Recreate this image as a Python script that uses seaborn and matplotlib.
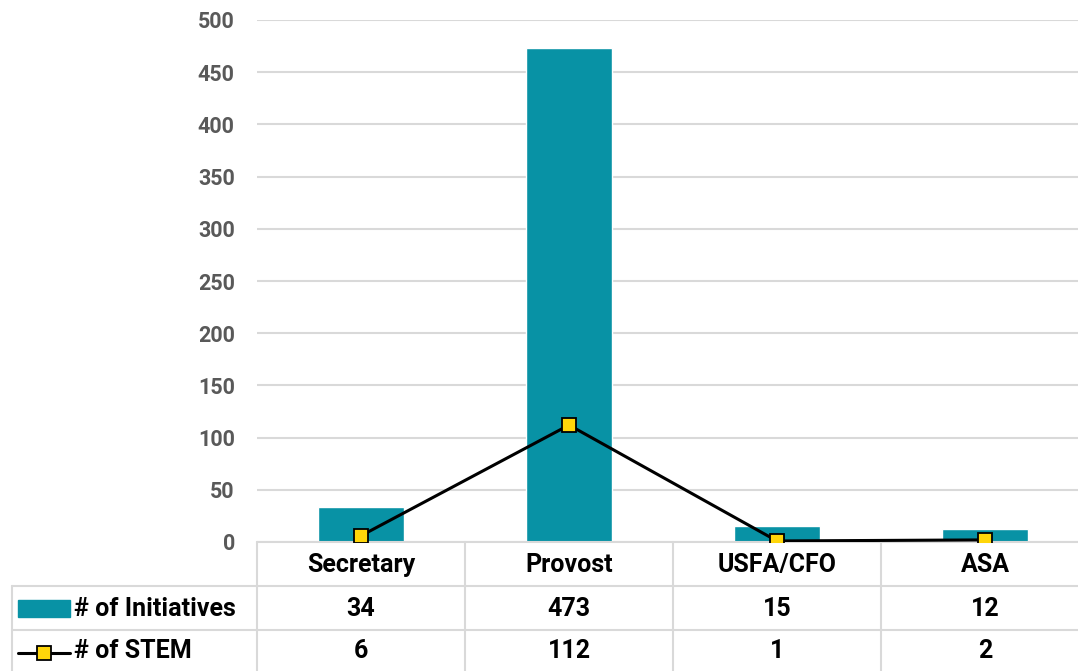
import matplotlib
matplotlib.use("Agg")
import matplotlib.pyplot as plt
from matplotlib.transforms import blended_transform_factory
from matplotlib.patches import Rectangle
from matplotlib.lines import Line2D
import numpy as np
import pandas as pd
import seaborn as sns

categories = ["Secretary", "Provost", "USFA/CFO", "ASA"]
initiatives = [34, 473, 15, 12]
stem = [6, 112, 1, 2]
series_names = ["# of Initiatives", "# of STEM"]
y_ticks = [0, 50, 100, 150, 200, 250, 300, 350, 400, 450, 500]

BAR_COLOR = "#0892a5"
MARKER_COLOR = "#ffd60a"
GRID_COLOR = "#d9d9d9"
TICK_COLOR = "#595959"

sns.set_theme(style="white")
plt.rcParams["font.family"] = ["Roboto", "DejaVu Sans"]

W, H = 1078, 671
fig = plt.figure(figsize=(W / 100, H / 100), dpi=100)

# plot area in pixel terms (runs slightly past the right edge of the canvas)
left_px, right_px, top_px, base_px = 257, 1089, 20, 542
ax = fig.add_axes([left_px / W, 1 - base_px / H,
                   (right_px - left_px) / W, (base_px - top_px) / H])

df = pd.DataFrame({"category": categories, "initiatives": initiatives, "stem": stem})

sns.barplot(data=df, x="category", y="initiatives", color=BAR_COLOR,
            width=0.41, saturation=1, ax=ax, zorder=2)
sns.lineplot(x=np.arange(len(categories)), y=df["stem"], color="black",
             linewidth=2.2, marker="s", markersize=10,
             markerfacecolor=MARKER_COLOR, markeredgecolor="black",
             markeredgewidth=1.3, ax=ax, zorder=3)

ax.set_xlim(-0.5, len(categories) - 0.5)
ax.set_ylim(0, 500)
ax.set_yticks(y_ticks)
ax.set_yticklabels([str(v) for v in y_ticks], fontsize=15.5,
                   fontweight="bold", color=TICK_COLOR)
ax.tick_params(axis="y", length=0, pad=16)
ax.set_xticks([])
ax.set_xlabel("")
ax.set_ylabel("")
ax.grid(axis="y", color=GRID_COLOR, linewidth=1.5, zorder=0)
ax.set_axisbelow(True)
for s in ax.spines.values():
    s.set_visible(False)

# data table below the plot area
tr = blended_transform_factory(ax.transData, ax.transAxes)
span = base_px - top_px

def ay(py):
    return (base_px - py) / span

row_edges = [542, 586, 630, 671]
line_kw = dict(color=GRID_COLOR, linewidth=1.5, clip_on=False)
n = len(categories)
ax_left_x = (12 - left_px) / (right_px - left_px)  # in axes fraction

# horizontal lines
ax.add_line(Line2D([0, 1], [ay(542)] * 2, transform=ax.transAxes, **line_kw))
for py in row_edges[1:3]:
    ax.add_line(Line2D([ax_left_x, 1], [ay(py)] * 2, transform=ax.transAxes, **line_kw))
# vertical lines between categories
for xb in np.arange(-0.5, n, 1.0):
    ax.add_line(Line2D([xb, xb], [ay(542), ay(675)], transform=tr, **line_kw))
ax.add_line(Line2D([ax_left_x, ax_left_x], [ay(586), ay(675)],
                   transform=ax.transAxes, **line_kw))

text_kw = dict(fontsize=18, fontweight="bold", color="black",
               ha="center", va="center", clip_on=False)
row_mid = [(row_edges[i] + row_edges[i + 1]) / 2 + 1 for i in range(3)]
for i, cat in enumerate(categories):
    ax.text(i, ay(row_mid[0]), cat, transform=tr, **text_kw)
    ax.text(i, ay(row_mid[1]), str(initiatives[i]), transform=tr, **text_kw)
    ax.text(i, ay(row_mid[2]), str(stem[i]), transform=tr, **text_kw)

# legend keys in the table header column
fx = lambda px: px / W
fy = lambda py: 1 - py / H
fig.patches.append(Rectangle((fx(18), fy(617)), fx(70) - fx(18), fy(600) - fy(617),
                             transform=fig.transFigure, color=BAR_COLOR))
fig.lines.append(Line2D([fx(18), fx(70)], [fy(653)] * 2, transform=fig.transFigure,
                        color="black", linewidth=2.2))
fig.lines.append(Line2D([fx(44)], [fy(653)], transform=fig.transFigure,
                        marker="s", markersize=10, markerfacecolor=MARKER_COLOR,
                        markeredgecolor="black", markeredgewidth=1.3, linestyle="none"))
label_kw = dict(fontsize=18, fontweight="bold", color="black", ha="left", va="center")
fig.text(fx(74), fy(row_mid[1]), series_names[0], **label_kw)
fig.text(fx(74), fy(row_mid[2]), series_names[1], **label_kw)

fig.savefig("out.png", dpi=100, facecolor="white")
